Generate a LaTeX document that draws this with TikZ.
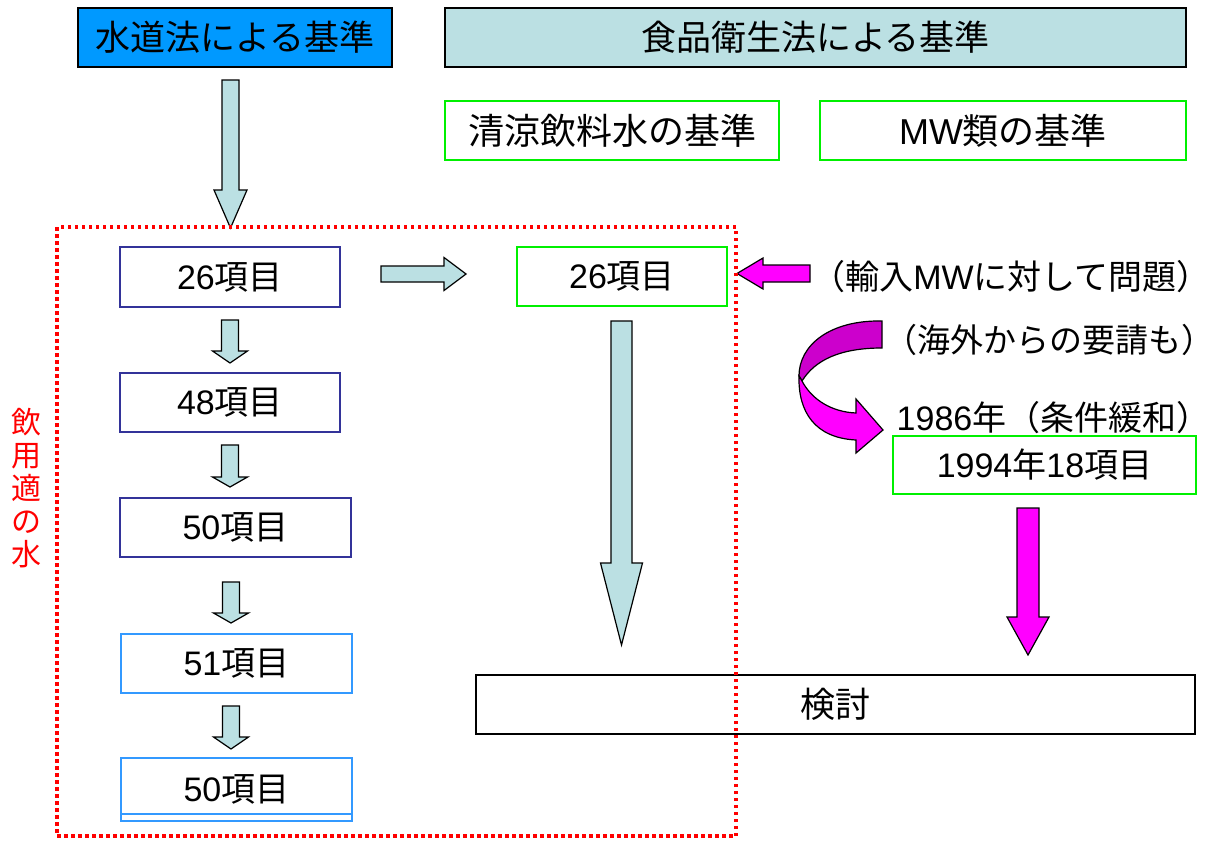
\documentclass[tikz,border=0pt]{standalone}
\usepackage{fontspec}
\setmainfont{Noto Sans CJK JP}
\newfontfamily\lat{Liberation Sans}
\definecolor{hdrblue}{RGB}{0,153,255}
\definecolor{pale}{RGB}{187,224,227}
\definecolor{boxgreen}{RGB}{0,240,0}
\definecolor{navy}{RGB}{51,51,153}
\definecolor{lblue}{RGB}{51,153,255}
\definecolor{mag}{RGB}{255,0,255}
\definecolor{darkmag}{RGB}{204,0,204}
\newcommand\blkdown[7]{\filldraw[blk,fill=#7] ({#1-#3},#2) -- ({#1+#3},#2) -- ({#1+#3},#5) -- ({#1+#4},#5) -- (#1,#6) -- ({#1-#4},#5) -- ({#1-#3},#5) -- cycle;}
\newcommand\blkhoriz[7]{\filldraw[blk,fill=#7] (#2,{#1-#3}) -- (#2,{#1+#3}) -- (#5,{#1+#3}) -- (#5,{#1+#4}) -- (#6,#1) -- (#5,{#1-#4}) -- (#5,{#1-#3}) -- cycle;}
\begin{document}
\begin{tikzpicture}[x=1pt,y=-1pt,
  base/.style={inner sep=0pt, line width=1.5pt, font=\fontsize{34}{40}\selectfont},
  hdr/.style={base, draw=black, font=\fontsize{35}{40}\selectfont},
  gbox/.style={base, draw=boxgreen, fill=white, font=\fontsize{36}{40}\selectfont},
  gsbox/.style={base, draw=boxgreen, fill=white},
  nbox/.style={base, draw=navy, fill=white},
  lbbox/.style={base, draw=lblue, fill=white},
  kbox/.style={base, draw=black, fill=white, font=\fontsize{35}{40}\selectfont},
  txt/.style={inner sep=0pt, font=\fontsize{34}{40}\selectfont},
  blk/.style={draw=black, line width=1.2pt, line join=miter},
  dotted frame/.style={draw=red, line width=3.5pt, dash pattern=on 3.5pt off 3.5pt}
]
\fill[white] (0,0) rectangle (1217,843);
\useasboundingbox (0,0) rectangle (1217,843);

% headers
\node[hdr, fill=hdrblue, minimum width=314pt, minimum height=59pt] (sd) at (235,37.5) {水道法による基準};
\node[hdr, fill=pale, minimum width=741pt, minimum height=59pt] (sh) at (815.5,37.5) {食品衛生法による基準};
\node[gbox, minimum width=334pt, minimum height=59pt] (sr) at (612,130.5) {清涼飲料水の基準};
\node[gbox, minimum width=366pt, minimum height=59pt] (mw) at (1003,130.5) {{\lat MW}類の基準};

% left column
\node[nbox, minimum width=220pt, minimum height=60pt] (b1) at (230,277) {{\lat 26}項目};
\node[nbox, minimum width=220pt, minimum height=59pt] (b2) at (230,402.5) {{\lat 48}項目};
\node[nbox, minimum width=231pt, minimum height=59pt] (b3) at (235.5,527.5) {{\lat 50}項目};
\node[lbbox, minimum width=231pt, minimum height=59pt] (b4) at (236.5,663.5) {{\lat 51}項目};
\node[lbbox, minimum width=231pt, minimum height=63pt] (b5) at (236.5,789.5) {{\lat 50}項目};
\draw[lblue, line width=1.5pt] ([yshift=8pt]b5.south west) -- ([yshift=8pt]b5.south east);

% right side
\node[gsbox, minimum width=210pt, minimum height=59pt] (f1) at (622,276.5) {{\lat 26}項目};
\node[gsbox, minimum width=303pt, minimum height=58pt] (ny) at (1044.5,465) {{\lat 1994}年{\lat 18}項目};
\node[kbox, minimum width=719pt, minimum height=59pt] (kt) at (835.5,704.5) {検討};

\node[txt] (t1) at (1011,277) {（輸入{\lat MW}に対して問題）};
\node[txt, font=\fontsize{33}{40}\selectfont] (t2) at (1049,340) {（海外からの要請も）};
\node[txt] (t3) at (1053.5,418) {{\lat 1986}年（条件緩和）};

\node[inner sep=0pt, text=red, align=center, font=\fontsize{30}{33}\selectfont] (vt) at (27,488) {飲\\用\\適\\の\\水};

% block arrows
\blkdown{230.5}{80}{8.5}{16.5}{190}{228}{pale}
\blkdown{230}{320}{8.5}{17.5}{351}{363}{pale}
\blkdown{230}{445}{8.5}{17.5}{477}{487}{pale}
\blkdown{231}{582}{8.5}{17.5}{613}{623}{pale}
\blkdown{231}{706}{8.5}{17.5}{737}{749}{pale}
\blkhoriz{274}{381}{8}{16.5}{444}{466}{pale}
\blkdown{621.5}{321}{10.5}{21}{563}{645}{pale}
\blkhoriz{273.5}{810}{8.5}{15.5}{763}{737}{mag}
\blkdown{1028}{508}{11}{21}{617}{655}{mag}

% curved ribbon arrow
\filldraw[blk, fill=darkmag] (882,321) .. controls (830,320) and (799,345) .. (799,376) -- (802,381) .. controls (815,360) and (840,348) .. (882,348) -- cycle;
\filldraw[blk, fill=mag] (799,376) .. controls (798,412) and (815,438) .. (856,440) -- (856,453) -- (883,430) -- (856,399) -- (856,413) .. controls (832,412) and (812,400) .. (802,381) -- cycle;

% dotted frame
\draw[dotted frame] (57,227) rectangle (736,836);
\end{tikzpicture}
\end{document}
